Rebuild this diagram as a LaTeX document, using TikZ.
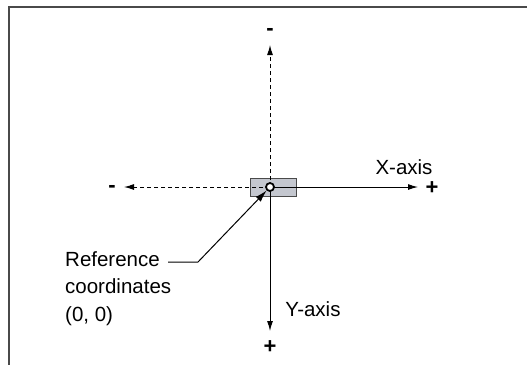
\documentclass[tikz,border=0pt]{standalone}
\usepackage{fontspec}
\setmainfont{Liberation Sans}
\usepackage{tikz}
\usetikzlibrary{
  arrows.meta,%
  positioning
}
\definecolor{framegray}{HTML}{4A4A4A}
\definecolor{boxfill}{HTML}{C4C7CF}
\tikzset{>={Latex[length=10pt,width=6pt]}}
\tikzset{axis/.style={->, line width=1pt},
  negaxis/.style={axis, dash pattern=on 4pt off 3pt},
  sign/.style={inner sep=0pt, font=\fontsize{22}{22}\selectfont\bfseries},
  refbox/.style={draw=framegray, fill=boxfill, line width=0.9pt,
    minimum width=46pt, minimum height=18pt, inner sep=0pt},
  origin/.style={circle, draw, fill=white, line width=1.8pt,
    minimum size=8pt, inner sep=0pt}}

\begin{document}
\begin{tikzpicture}[x=1pt, y=-1pt, font=\fontsize{20.5}{27.5}\selectfont]
  \useasboundingbox (0,0) rectangle (527,365);
  \draw[framegray, line width=1.5pt] (527,7) -- (9,7) -- (9,365);
  \node[refbox] (box) at (273,187) {};
  \coordinate (c) at (270,187);
  % axis ends
  \coordinate (xend) at (418,187);
  \coordinate (xneg) at (124,187);
  \coordinate (yend) at (270,331);
  \coordinate (yneg) at (270,45);
  \draw[axis] (c) -- (xend);
  \draw[axis] (c) -- (yend);
  \draw[negaxis] (c) -- (xneg);
  \draw[negaxis] (c) -- (yneg);
  \node[origin] (o) at (c) {};
  % signs
  \node[sign] (xplus) at (432,188) {+};
  \node[sign] (yplus) at (270,347) {+};
  \node[sign] (xminus) at (112,189) {-};
  \node[sign] (yminus) at (270,32) {-};
  \node (xlabel) at (404,167) {X-axis};
  \node (ylabel) at (313,309) {Y-axis};
  % reference label
  \node[anchor=north west, align=left, inner sep=0pt] (reflabel) at (65,251)
    {Reference\\coordinates\\(0, 0)};
  \coordinate (leadstart) at (168,262);
  \coordinate (bend) at (198,262);
  \draw[->, >={Latex[length=12pt,width=7pt]}, line width=1pt]
    (leadstart) -- (bend) -- (o);
\end{tikzpicture}
\end{document}
